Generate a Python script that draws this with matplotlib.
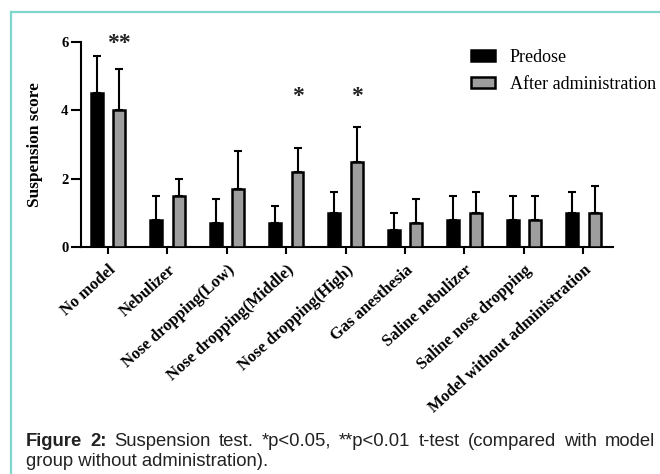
import numpy as np
import matplotlib
matplotlib.use("Agg")
import matplotlib.pyplot as plt
from matplotlib.lines import Line2D

# ---- data ----
groups = ["No model", "Nebulizer", "Nose dropping(Low)", "Nose dropping(Middle)",
          "Nose dropping(High)", "Gas anesthesia", "Saline nebulizer",
          "Saline nose dropping", "Model without administration"]
predose_mean = [4.5, 0.8, 0.7, 0.7, 1.0, 0.5, 0.8, 0.8, 1.0]
predose_sd = [1.1, 0.7, 0.7, 0.5, 0.6, 0.5, 0.7, 0.7, 0.6]
after_mean = [4.0, 1.5, 1.7, 2.2, 2.5, 0.7, 1.0, 0.8, 1.0]
after_sd = [1.2, 0.5, 1.1, 0.7, 1.0, 0.7, 0.6, 0.7, 0.8]
sig_marks = ["**", "", "", "*", "*", "", "", "", ""]
sig_y = [5.95, 0, 0, 4.4, 4.4, 0, 0, 0, 0]
y_ticks = [0, 2, 4, 6]

caption_line1 = ["Figure", "2:", "Suspension", "test.", "*p<0.05,", "**p<0.01",
                 "t-test", "(compared", "with", "model"]
caption_bold = 2
caption_line2 = "group without administration)."

SERIF = ["Liberation Serif", "DejaVu Serif"]
SANS = ["Liberation Sans", "DejaVu Sans"]
TEAL = "#7fd6ca"
GRAY = "#9e9e9e"

W, H = 660, 474
fig = plt.figure(figsize=(W / 100, H / 100), dpi=100)
fig.patch.set_facecolor("white")

# teal frame lines (left and top)
fig.add_artist(Line2D([11 / W, 11 / W], [0, 1 - 12 / H], color=TEAL, lw=1.6,
                      transform=fig.transFigure))
fig.add_artist(Line2D([11 / W, 1], [1 - 12 / H, 1 - 12 / H], color=TEAL, lw=1.6,
                      transform=fig.transFigure))

ax = fig.add_axes([81 / W, 1 - 247 / H, (613 - 81) / W, (247 - 42) / H])
x = np.arange(len(groups))
n = len(groups)
off = 0.19
bw = 0.2

b1 = ax.bar(x - off, predose_mean, bw, color="black", edgecolor="black",
            linewidth=1.8, zorder=3, label="Predose")
b2 = ax.bar(x + off, after_mean, bw, color=GRAY, edgecolor="black",
            linewidth=1.8, zorder=3, label="After administration")
ax.errorbar(x - off, predose_mean, yerr=[np.zeros(n), predose_sd], fmt="none",
            ecolor="black", elinewidth=1.5, capsize=3, capthick=1.5, zorder=2)
ax.errorbar(x + off, after_mean, yerr=[np.zeros(n), after_sd], fmt="none",
            ecolor="black", elinewidth=1.5, capsize=3, capthick=1.5, zorder=2)

for i, (m, yv) in enumerate(zip(sig_marks, sig_y)):
    if m:
        ax.text(x[i] + off, yv, m, ha="center", va="center", fontsize=17,
                family=SERIF, fontweight="bold", color="#222222", clip_on=False)

ax.set_xlim(-0.455, 8.5)
ax.set_ylim(0, 6)
for s in ("top", "right"):
    ax.spines[s].set_visible(False)
for s in ("left", "bottom"):
    ax.spines[s].set_linewidth(1.5)

ax.set_yticks(y_ticks)
ax.set_yticklabels([str(t) for t in y_ticks], family=SERIF, fontweight="bold",
                   fontsize=10.5)
ax.set_xticks(x)
ax.set_xticklabels(groups, family=SERIF, fontweight="bold", fontsize=12,
                   rotation=42, ha="right", va="top", rotation_mode="anchor")
ax.tick_params(axis="y", length=7, width=1.5, pad=2)
ax.tick_params(axis="x", length=5, width=1.5, pad=6)
ax.set_ylabel("Suspension score", family=SERIF, fontweight="bold", fontsize=12.4,
              labelpad=13)

ax.legend(handles=[b1, b2], loc="upper left",
          bbox_to_anchor=(471 / W, 1 - 49 / H), bbox_transform=fig.transFigure,
          frameon=False, prop={"family": SERIF, "size": 13},
          handlelength=1.35, handleheight=0.55, handletextpad=0.8,
          labelspacing=0.55, borderpad=0, borderaxespad=0)

# caption, first line justified between two edges
left_px, right_px = 26, 655
renderer = fig.canvas.get_renderer()
words = []
for i, w in enumerate(caption_line1):
    t = fig.text(0, 1 - 446 / H, w, family=SANS, fontsize=13.3, color="#222222",
                 fontweight="bold" if i < caption_bold else "normal",
                 va="baseline", ha="left")
    words.append(t)
widths = [t.get_window_extent(renderer).width for t in words]
gap = (right_px - left_px - sum(widths)) / (len(words) - 1)
pos = left_px
for t, wd in zip(words, widths):
    t.set_x(pos / W)
    pos += wd + gap
fig.text(left_px / W, 1 - 466 / H, caption_line2, family=SANS, fontsize=13.3,
         color="#222222", va="baseline", ha="left")

fig.savefig("out.png", dpi=100, facecolor="white")
